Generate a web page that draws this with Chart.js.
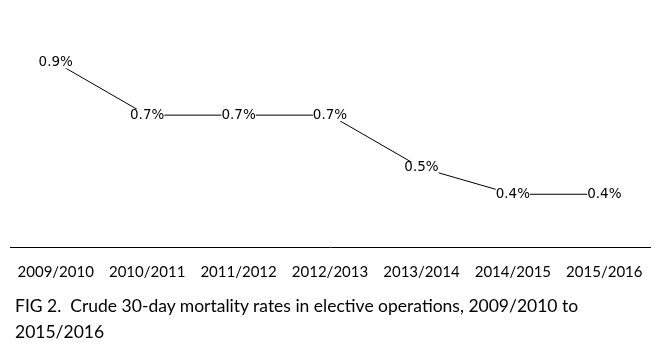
<!DOCTYPE html>
<html>
<head>
<meta charset="utf-8">
<script src="https://cdn.jsdelivr.net/npm/chart.js@4.4.1/dist/chart.umd.min.js"></script>
<style>
  body { margin: 0; background: #fff; }
  #wrap { position: relative; width: 659px; height: 347px; }
  #caption {
    position: absolute; left: 15px; top: 293px;
    font-family: Lato, "Open Sans", sans-serif; font-size: 17.5px; line-height: 26px;
    color: #000;
  }
</style>
</head>
<body>
<div id="wrap">
  <canvas id="grafico"></canvas>
  <div id="caption">FIG 2.&nbsp; Crude 30-day mortality rates in elective operations, 2009/2010 to<br>2015/2016</div>
</div>
<script>
// años y tasas de mortalidad (%)
const periodos = ['2009/2010', '2010/2011', '2011/2012', '2012/2013', '2013/2014', '2014/2015', '2015/2016']
const tasas = [0.9, 0.7, 0.7, 0.7, 0.5, 0.4, 0.4]

// etiquetas con fondo blanco encima de cada punto
const etiquetas = {
    id: 'etiquetas',
    afterDatasetsDraw(chart) {
        const ctx = chart.ctx
        const meta = chart.getDatasetMeta(0)
        ctx.save()
        ctx.font = '13.5px "DejaVu Sans", sans-serif'
        ctx.textAlign = 'center'
        ctx.textBaseline = 'middle'
        meta.data.forEach((p, i) => {
            const txt = tasas[i].toFixed(1) + '%'
            const w = ctx.measureText(txt).width
            ctx.fillStyle = '#fff'
            ctx.fillRect(p.x - w / 2, p.y - 6, w, 12)
            ctx.fillStyle = '#000'
            ctx.fillText(txt, p.x, p.y)
        })
        ctx.restore()
    }
}

const ctx = document.getElementById('grafico').getContext('2d')
const grafico = new Chart(ctx, {
    type: 'line',
    data: {
        labels: periodos,
        datasets: [{
            label: 'Mortalidad',
            data: tasas,
            borderColor: '#000',
            borderWidth: 1,
            pointRadius: 0,
            tension: 0
        }]
    },
    options: {
        responsive: true,
        maintainAspectRatio: false,
        animation: false,
        layout: { padding: { left: 10, right: 7, top: 36, bottom: 50 } },
        plugins: {
            legend: { display: false },
            tooltip: { enabled: false }
        },
        scales: {
            x: {
                offset: true,
                grid: { display: false, drawTicks: false },
                border: { display: true, color: '#000', width: 1 },
                ticks: {
                    color: '#000',
                    padding: 16,
                    maxRotation: 0,
                    font: { family: 'Lato', size: 15 }
                }
            },
            y: {
                display: false,
                min: 0.2,
                max: 1.0
            }
        }
    },
    plugins: [etiquetas]
})
</script>
</body>
</html>
